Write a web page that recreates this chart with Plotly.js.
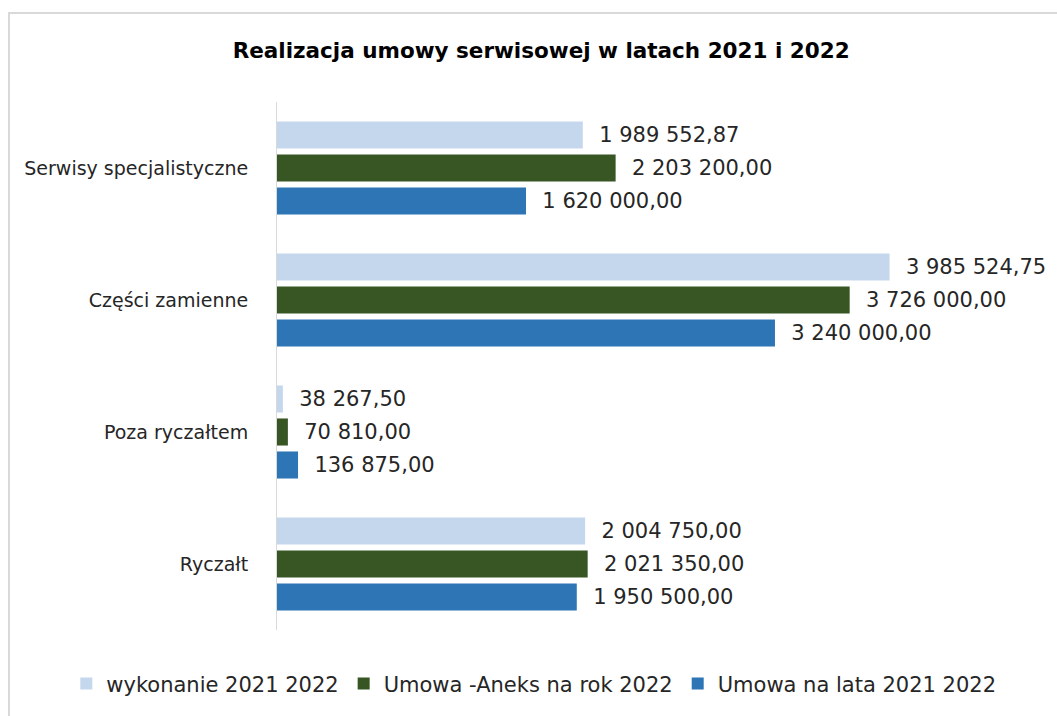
<!DOCTYPE html>
<html>
<head>
<meta charset="utf-8">
<script src="https://cdn.plot.ly/plotly-3.0.1.min.js"></script>
<style>
  html, body { margin: 0; padding: 0; background: #fff; }
  #wrap { position: relative; width: 1057px; height: 716px; }
  #chart { position: absolute; left: 0; top: 0; width: 1057px; height: 716px; }
  #frame { position: absolute; left: 8px; top: 12px; width: 1060px; height: 720px;
           border-left: 2px solid #d9d9d9; border-top: 2px solid #d9d9d9; pointer-events: none; }
</style>
</head>
<body>
<div id="wrap">
  <div id="chart"></div>
  <div id="frame"></div>
</div>
<script>
// Categories listed bottom-to-top (Plotly draws first category at the bottom)
const categories = ["Ryczałt", "Poza ryczałtem", "Części zamienne", "Serwisy specjalistyczne"];
const seriesNames = ["Umowa na lata 2021 2022", "Umowa -Aneks na rok 2022", "wykonanie 2021 2022"];
const umowaNaLata = [1950500.00, 136875.00, 3240000.00, 1620000.00];
const umowaAneks = [2021350.00, 70810.00, 3726000.00, 2203200.00];
const wykonanie = [2004750.00, 38267.50, 3985524.75, 1989552.87];
const colors = ["#2E75B6", "#375623", "#C5D7ED"];

const allSeries = [umowaNaLata, umowaAneks, wykonanie];
const fontFam = "'DejaVu Sans', sans-serif";

const traces = allSeries.map((vals, i) => ({
  type: "bar",
  orientation: "h",
  name: seriesNames[i],
  y: categories,
  x: vals,
  marker: { color: colors[i] },
  texttemplate: "\u00a0\u00a0%{x:,.2f}",
  textposition: "outside",
  cliponaxis: false,
  textfont: { family: fontFam, size: 21, color: "#262626" },
  hoverinfo: "x+name"
}));

const layout = {
  width: 1057,
  height: 716,
  paper_bgcolor: "#ffffff",
  plot_bgcolor: "#ffffff",
  separators: ", ",
  barmode: "group",
  bargap: 0.25,
  bargroupgap: 0.18,
  margin: { l: 277, r: 73, t: 102, b: 86, autoexpand: false },
  title: {
    text: "<b>Realizacja umowy serwisowej w latach 2021 i 2022</b>",
    font: { family: fontFam, size: 21.5, color: "#000000" },
    xref: "container", x: 0.512, xanchor: "center",
    yref: "container", y: 0.93, yanchor: "middle"
  },
  xaxis: {
    range: [0, 4600000],
    showgrid: false,
    zeroline: false,
    showticklabels: false,
    ticks: "",
    showline: false,
    fixedrange: true
  },
  yaxis: {
    type: "category",
    showgrid: false,
    zeroline: false,
    showline: true,
    linecolor: "#d9d9d9",
    linewidth: 1,
    ticks: "",
    ticklabelstandoff: 24,
    tickfont: { family: fontFam, size: 19, color: "#262626" },
    fixedrange: true
  },
  showlegend: true,
  legend: {
    orientation: "h",
    traceorder: "reversed",
    xref: "paper", x: -0.298, xanchor: "left",
    yref: "paper", y: -0.102, yanchor: "middle",
    font: { family: fontFam, size: 21, color: "#262626" }
  }
};

Plotly.newPlot("chart", traces, layout, { displayModeBar: false, staticPlot: true });
</script>
</body>
</html>
